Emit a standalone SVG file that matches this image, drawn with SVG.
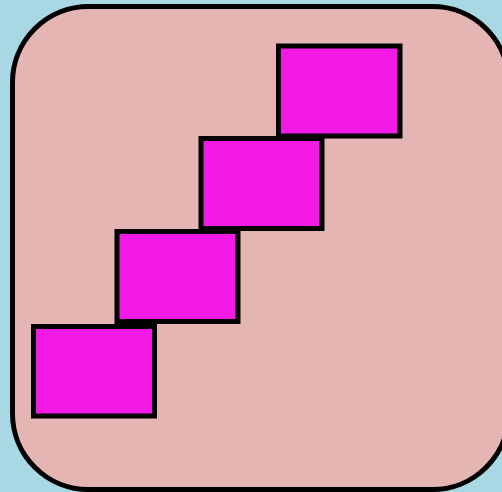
<svg xmlns="http://www.w3.org/2000/svg" width="502" height="492" viewBox="0 0 502 492">
<style>
.step{fill:#f41ae6;stroke:#000;stroke-width:5;stroke-linejoin:miter}
</style>
<rect x="0" y="0" width="502" height="492" fill="#a8d8e4"/>
<g id="frame"><rect x="12.5" y="6.5" width="496" height="483" rx="76" ry="76" fill="#e5b5b4" stroke="#000" stroke-width="5"/></g>
<g id="step1"><rect class="step" x="33.5" y="326.5" width="121" height="89.5"/></g>
<g id="step2"><rect class="step" x="117" y="231.5" width="121" height="90"/></g>
<g id="step3"><rect class="step" x="201" y="138.5" width="121" height="90"/></g>
<g id="step4"><rect class="step" x="278.5" y="46" width="121.5" height="90"/></g>
<g id="connectors"></g>
</svg>
